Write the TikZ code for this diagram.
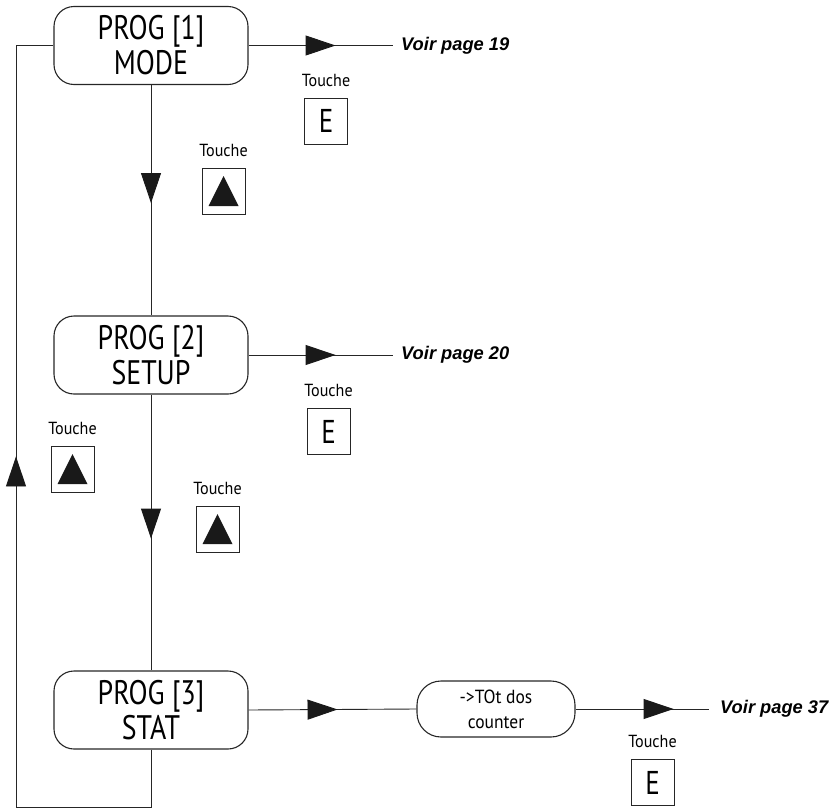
\documentclass[tikz,border=0pt]{standalone}
\usepackage{fontspec}
\newfontfamily\keyfont[FakeStretch=0.82]{PT Sans}
\newfontfamily\labelfont[FakeStretch=0.92]{PT Sans}
\newfontfamily\reffont{Liberation Sans}
\usetikzlibrary{positioning,arrows.meta,decorations.markings}

\tikzset{
	progbox/.style={draw=black!85, line width=1.1pt, rounded corners=20pt, minimum width=194pt, minimum height=78pt, inner sep=0pt, align=center, font=\keyfont\fontsize{34}{35}\selectfont},
	totbox/.style={draw=black!85, line width=1.1pt, rounded corners=24pt, minimum width=158pt, minimum height=56pt, inner sep=0pt, align=center, font=\labelfont\fontsize{19}{25}\selectfont},
	keybox/.style={draw=black!85, line width=1pt, minimum width=43pt, minimum height=46pt, inner sep=0pt, font=\keyfont\fontsize{33}{33}\selectfont},
	keyup/.style={keybox, path picture={\fill[black!90] ([xshift=-15pt,yshift=-15pt]path picture bounding box.center) -- ++(30pt,0pt) -- ++(-15pt,30pt) -- cycle;}},
	keylabel/.style={inner sep=0pt, font=\labelfont\fontsize{17.5}{18}\selectfont},
	voir/.style={anchor=west, inner sep=8pt, font=\reffont\bfseries\itshape\fontsize{18.3}{18}\selectfont},
	conn/.style={draw=black!85, line width=0.9pt},
	midtip/.style={postaction={decorate, decoration={markings, mark=at position #1 with {\arrow[black!90]{Triangle[length=30pt,width=20pt]}}}}}
}

\begin{document}
\begin{tikzpicture}[x=1pt, y=-1pt]
	\useasboundingbox (0,0) rectangle (839,809);
	\node[progbox] (s1) at (151,45.5) {PROG [1]\\MODE};
	\node[progbox] (s2) at (151,355) {PROG [2]\\SETUP};
	\node[progbox] (s3) at (151,710) {PROG [3]\\STAT};
	\node[totbox] (tot) at (496,709) {->TOt dos\\counter};
	\node[voir] (v1) at (393,45.5) {Voir page 19};
	\node[voir] (v2) at (393,355) {Voir page 20};
	\node[voir, inner sep=11pt] (v3) at (709,709) {Voir page 37};
	\coordinate (loopL) at (16,807);

	\path[conn, midtip=87pt] (s1.east) -- (v1.west);
	\path[conn, midtip=118pt] (s1.south) -- (s2.north);
	\path[conn, midtip=87pt] (s2.east) -- (v2.west);
	\path[conn, midtip=144pt] (s2.south) -- (s3.north);
	\path[conn, midtip=89pt] (s3.east) -- (tot.west);
	\path[conn, midtip=98pt] (tot.east) -- (v3.west);
	\path[conn, midtip=543pt] (s3.south) |- (loopL) |- (s1.west);

	\node[keybox] (kE1) at (326,121) {E};
	\node[keyup] (kU1) at (223.5,191) {};
	\node[keybox] (kE2) at (328.5,431.5) {E};
	\node[keyup] (kU3) at (72.5,469) {};
	\node[keyup] (kU2) at (217.5,529) {};
	\node[keybox] (kE3) at (652.5,782.5) {E};
	\foreach \k in {kE1,kU1,kE2,kU3,kU2,kE3}
		\node[keylabel, above=11pt of \k] (t-\k) {Touche};
\end{tikzpicture}
\end{document}
